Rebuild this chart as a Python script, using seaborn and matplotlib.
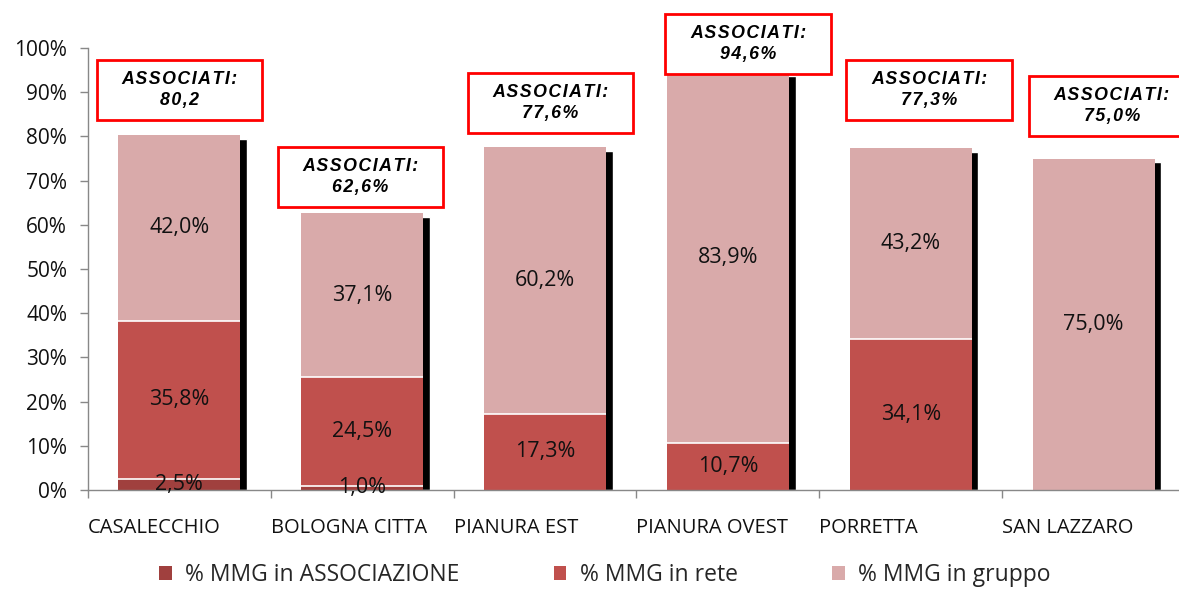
import numpy as np
import matplotlib
matplotlib.use("Agg")
import matplotlib.pyplot as plt
import matplotlib.transforms as mtrans
import seaborn as sns
from matplotlib.patches import Patch, Rectangle

# values (percent)
categories = ["CASALECCHIO", "BOLOGNA CITTA", "PIANURA EST", "PIANURA OVEST", "PORRETTA", "SAN LAZZARO"]
associazione = np.array([2.5, 1.0, 0.0, 0.0, 0.0, 0.0])
rete = np.array([35.8, 24.5, 17.3, 10.7, 34.1, 0.0])
gruppo = np.array([42.0, 37.1, 60.2, 83.9, 43.2, 75.0])
associati_labels = ["80,2", "62,6%", "77,6%", "94,6%", "77,3%", "75,0%"]
series_names = ["% MMG in ASSOCIAZIONE", "% MMG in rete", "% MMG in gruppo"]

# callout box centres (data units)
box_x = [0.0, 0.99, 2.03, 3.11, 4.10, 5.10]
box_y = [90.4, 70.8, 87.6, 101.0, 90.5, 86.9]

c_assoc = "#A0403E"
c_rete = "#C0504D"
c_gruppo = "#D9AAAA"

sns.set_style("white")
plt.rcParams["font.family"] = ["Open Sans", "DejaVu Sans"]

fig = plt.figure(figsize=(11.79, 5.89), dpi=100)
ax = fig.add_axes([88 / 1179, 99 / 589, 1097 / 1179, 442 / 589])

bw = 0.667
low = associazione
mid = associazione + rete
top = associazione + rete + gruppo

# shadow behind each stack
ax.bar(np.arange(len(categories)) + 0.037, top - 0.9, width=bw, color="black", zorder=1)

# stacked bars drawn by overlaying cumulative totals
for vals, col in [(top, c_gruppo), (mid, c_rete), (low, c_assoc)]:
    sns.barplot(x=categories, y=vals, color=col, width=bw, linewidth=0,
                saturation=1, ax=ax, zorder=2)

# white separators between segments
for vals in [low, mid]:
    for i, v in enumerate(vals):
        if 0 < v < top[i]:
            ax.hlines(v, i - bw / 2, i + bw / 2, color="white", lw=1.2, zorder=3)

# segment value labels
for i in range(len(categories)):
    base = 0
    for v in [associazione[i], rete[i], gruppo[i]]:
        if v > 0:
            ax.text(i, base + v / 2, f"{v:.1f}%".replace(".", ","), ha="center",
                    va="center", fontsize=15.5, color="#111111", zorder=4)
        base += v

# red callout boxes
sp = "\u200a"
bwid, bhgt = 0.905, 13.6
for i, lab in enumerate(associati_labels):
    ax.add_patch(Rectangle((box_x[i] - bwid / 2, box_y[i] - bhgt / 2), bwid, bhgt,
                           facecolor="white", edgecolor="#FF0000", lw=2, zorder=5,
                           clip_on=False))
    txt = sp.join("ASSOCIATI:") + "\n" + sp.join(lab)
    ax.text(box_x[i], box_y[i], txt, ha="center", va="center", fontsize=12.8,
            fontweight="bold", fontstyle="italic", linespacing=1.3, color="black",
            family=["Liberation Sans", "DejaVu Sans"], zorder=6, clip_on=False)

ax.set_ylim(0, 100)
ax.set_xlim(-0.5, 5.5)
ax.set_yticks(np.arange(0, 101, 10))
ax.set_yticklabels([f"{t}%" for t in range(0, 101, 10)])
ax.set_xticks(np.arange(len(categories) + 1) - 0.5)
ax.set_xticklabels(categories + [""], ha="left")
offset = mtrans.ScaledTranslation(5 / 100, 0, fig.dpi_scale_trans)
for lab in ax.get_xticklabels():
    lab.set_transform(lab.get_transform() + offset)

ax.tick_params(axis="y", length=6, width=1, color="#888888", labelsize=15, pad=9,
               left=True, labelcolor="#111111")
ax.tick_params(axis="x", length=6, width=1, color="#888888", labelsize=14.5, pad=14,
               bottom=True, labelcolor="#111111")
for s in ["top", "right"]:
    ax.spines[s].set_visible(False)
for s in ["left", "bottom"]:
    ax.spines[s].set_color("#888888")
    ax.spines[s].set_linewidth(1)
ax.set_xlabel("")
ax.set_ylabel("")

handles = [Patch(facecolor=c, edgecolor="none") for c in [c_assoc, c_rete, c_gruppo]]
fig.legend(handles, series_names, loc="center", ncol=3, bbox_to_anchor=(0.513, 14 / 589),
           frameon=False, fontsize=16.5, handlelength=0.55, handleheight=0.55,
           handletextpad=0.6, columnspacing=4.1, borderpad=0.2)

fig.savefig("out.png", dpi=100)
